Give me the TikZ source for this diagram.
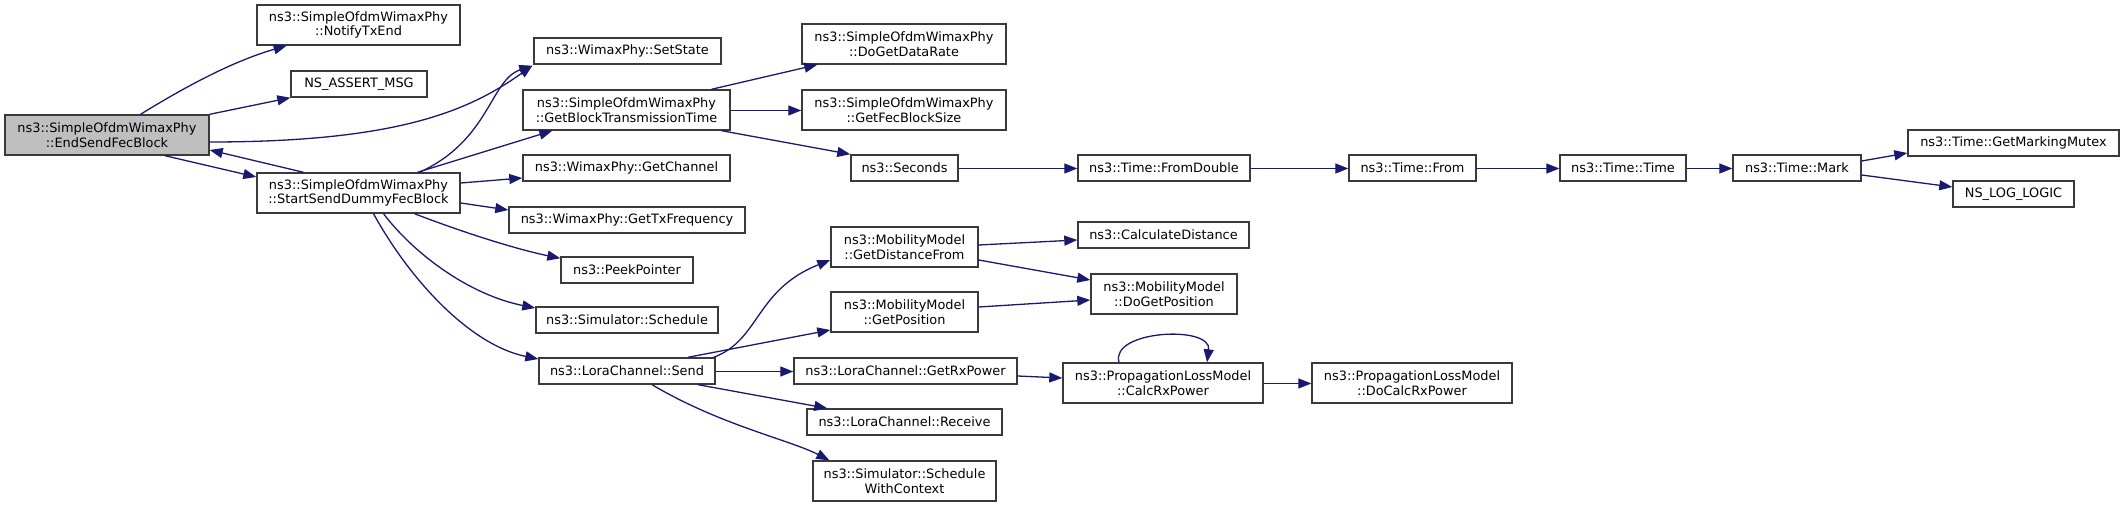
\documentclass[tikz,border=0pt]{standalone}
\usepackage{fontspec}
\setmainfont{DejaVu Sans}
\usetikzlibrary{arrows.meta}
\definecolor{edgeblue}{HTML}{191970}
\definecolor{nodeborder}{HTML}{3A3A3A}
\definecolor{mainfill}{HTML}{BFBFBF}
\begin{document}
\begin{tikzpicture}[x=1bp,y=-1bp,
  box/.style={draw=nodeborder, line width=1.4bp, fill=white, inner sep=0pt, align=center,
              font=\fontsize{12.9bp}{14.8bp}\selectfont, text=black},
  one/.style={box, minimum height=26bp},
  two/.style={box, minimum height=40bp},
  call/.style={draw=edgeblue, line width=1.3bp, -{Triangle[length=13bp,width=10bp]}}]
\useasboundingbox (0,0) rectangle (2124,507);

\node[two, fill=mainfill, minimum width=204bp] (end) at (107,135) {ns3::SimpleOfdmWimaxPhy\\::EndSendFecBlock};
\node[two, minimum width=203bp] (notify) at (358.5,25) {ns3::SimpleOfdmWimaxPhy\\::NotifyTxEnd};
\node[one, minimum width=136bp] (assert) at (359,84) {NS\_ASSERT\_MSG};
\node[one, minimum width=187bp] (setstate) at (627.5,51) {ns3::WimaxPhy::SetState};
\node[two, minimum width=207bp] (gbtt) at (626.5,110) {ns3::SimpleOfdmWimaxPhy\\::GetBlockTransmissionTime};
\node[two, minimum width=203bp] (start) at (358.5,193) {ns3::SimpleOfdmWimaxPhy\\::StartSendDummyFecBlock};
\node[one, minimum width=207bp] (getchannel) at (626.5,168) {ns3::WimaxPhy::GetChannel};
\node[one, minimum width=236bp] (gettxfreq) at (627,220) {ns3::WimaxPhy::GetTxFrequency};
\node[one, minimum width=132bp] (peek) at (627,270) {ns3::PeekPointer};
\node[one, minimum width=182bp] (schedule) at (627,320) {ns3::Simulator::Schedule};
\node[one, minimum width=176bp] (lsend) at (627,371) {ns3::LoraChannel::Send};
\node[two, minimum width=204bp] (dogetdatarate) at (904,44) {ns3::SimpleOfdmWimaxPhy\\::DoGetDataRate};
\node[two, minimum width=204bp] (getfec) at (904,110) {ns3::SimpleOfdmWimaxPhy\\::GetFecBlockSize};
\node[one, minimum width=107bp] (seconds) at (904.5,168) {ns3::Seconds};
\node[two, minimum width=147bp] (getdistfrom) at (904.5,247) {ns3::MobilityModel\\::GetDistanceFrom};
\node[two, minimum width=147bp] (getpos) at (904.5,312) {ns3::MobilityModel\\::GetPosition};
\node[one, minimum width=223bp] (getrx) at (905.5,371) {ns3::LoraChannel::GetRxPower};
\node[one, minimum width=195bp] (receive) at (904.5,422) {ns3::LoraChannel::Receive};
\node[two, minimum width=183bp] (swc) at (904.5,481) {ns3::Simulator::Schedule\\WithContext};
\node[one, minimum width=172bp] (fromdouble) at (1164,168) {ns3::Time::FromDouble};
\node[one, minimum width=171bp] (calcdist) at (1163.5,235) {ns3::CalculateDistance};
\node[two, minimum width=146bp] (dogetpos) at (1164,294) {ns3::MobilityModel\\::DoGetPosition};
\node[two, minimum width=200bp] (calcrx) at (1163,383) {ns3::PropagationLossModel\\::CalcRxPower};
\node[one, minimum width=127bp] (from) at (1412.5,168) {ns3::Time::From};
\node[two, minimum width=200bp] (docalcrx) at (1412,383) {ns3::PropagationLossModel\\::DoCalcRxPower};
\node[one, minimum width=126bp] (time) at (1623,168) {ns3::Time::Time};
\node[one, minimum width=128bp] (mark) at (1797,168) {ns3::Time::Mark};
\node[one, minimum width=211bp] (mutex) at (2013.5,143) {ns3::Time::GetMarkingMutex};
\node[one, minimum width=121bp] (nslog) at (2013.5,194) {NS\_LOG\_LOGIC};

% EndSendFecBlock
\draw[call] (end) .. controls (180,90) and (230,62) .. (notify);
\draw[call] (end.north east) -- (assert.south west);
\draw[call] ([yshift=-7bp]end.east) .. controls (400,142) and (470,110) .. ([xshift=-1bp,yshift=-1bp]setstate.south west);
\draw[call] ([xshift=58bp]end.south) -- ([yshift=16bp]start.west);
% StartSendDummyFecBlock
\draw[call] ([xshift=-55bp]start.north) -- ([yshift=-15bp]end.east);
\draw[call] ([xshift=61bp]start.north) .. controls (490,140) and (490,80) .. ([xshift=-1bp,yshift=-1bp]setstate.south west);
\draw[call] ([xshift=59bp]start.north) -- ([xshift=30bp]gbtt.south west);
\draw[call] ([yshift=10bp]start.east) -- ([yshift=-10bp]getchannel.west);
\draw[call] ([yshift=-10bp]start.east) -- ([yshift=10bp]gettxfreq.west);
\draw[call] ([xshift=56bp]start.south) .. controls (470,235) and (520,250) .. ([yshift=-2bp]peek.north west);
\draw[call] ([xshift=25bp]start.south) .. controls (415,255) and (470,295) .. ([yshift=12bp]schedule.west);
\draw[call] ([xshift=15bp]start.south) .. controls (410,280) and (470,345) .. ([yshift=12bp]lsend.west);
% GetBlockTransmissionTime
\draw[call] ([xshift=85bp]gbtt.north) -- ([xshift=16bp]dogetdatarate.south west);
\draw[call] ([yshift=-0.5bp]gbtt.east) -- ([yshift=-0.5bp]getfec.west);
\draw[call] ([xshift=95bp]gbtt.south) -- (seconds.north west);
% Time chain
\draw[call] ([yshift=-0.5bp]seconds.east) -- ([yshift=-0.5bp]fromdouble.west);
\draw[call] ([yshift=-0.5bp]fromdouble.east) -- ([yshift=-0.5bp]from.west);
\draw[call] ([yshift=-0.5bp]from.east) -- ([yshift=-0.5bp]time.west);
\draw[call] ([yshift=-0.5bp]time.east) -- ([yshift=-0.5bp]mark.west);
\draw[call] ([yshift=7bp]mark.east) -- ([yshift=-10bp]mutex.west);
\draw[call] ([yshift=-7bp]mark.east) -- ([yshift=7bp]nslog.west);
% LoraChannel::Send
\draw[call] ([xshift=-2bp]lsend.north east) .. controls (760,340) and (755,290) .. ([yshift=-13bp]getdistfrom.west);
\draw[call] ([xshift=61bp]lsend.north) -- ([yshift=-18bp]getpos.west);
\draw[call] ([yshift=-0.5bp]lsend.east) -- ([yshift=-0.5bp]getrx.west);
\draw[call] ([xshift=71bp]lsend.south) -- ([xshift=21bp]receive.north west);
\draw[call] ([xshift=25bp]lsend.south) .. controls (720,425) and (790,440) .. ([xshift=17bp]swc.north west);
% Mobility
\draw[call] ([yshift=2bp]getdistfrom.east) -- ([yshift=-5bp]calcdist.west);
\draw[call] ([yshift=-13bp]getdistfrom.east) -- ([yshift=14bp]dogetpos.west);
\draw[call] ([yshift=5bp]getpos.east) -- ([yshift=-6bp]dogetpos.west);
% Propagation
\draw[call] ([yshift=-5bp]getrx.east) -- ([yshift=5bp]calcrx.west);
\draw[call] ([xshift=-44bp]calcrx.north) .. controls (1110,330) and (1212,325) .. ([xshift=44bp]calcrx.north);
\draw[call] ([yshift=-0.5bp]calcrx.east) -- ([yshift=-0.5bp]docalcrx.west);
\end{tikzpicture}
\end{document}
